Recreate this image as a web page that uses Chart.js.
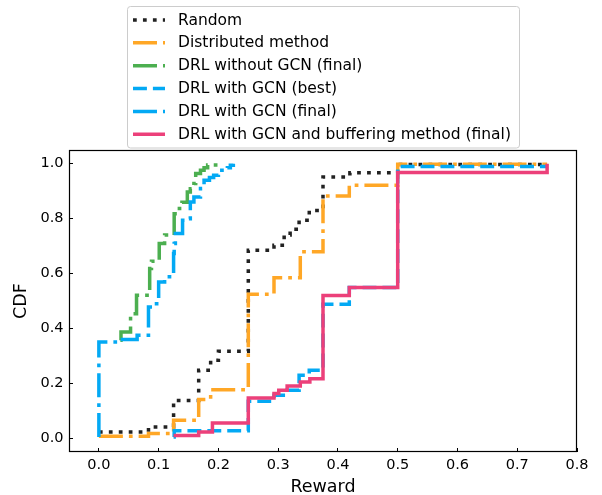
<!DOCTYPE html>
<html>
<head>
<meta charset="utf-8">
<script src="https://cdn.jsdelivr.net/npm/chart.js@4.4.0/dist/chart.umd.min.js"></script>
<style>
  html, body { margin: 0; padding: 0; background: #fff; }
  #c { display: block; }
</style>
</head>
<body>
<canvas id="c" width="602" height="495"></canvas>
<script>
// ---- Data ----
const seriesLabels = [
  "Random",
  "Distributed method",
  "DRL without GCN (final)",
  "DRL with GCN (best)",
  "DRL with GCN (final)",
  "DRL with GCN and buffering method (final)"
];

const randomX = [0, 0.083, 0.125, 0.167, 0.187, 0.2, 0.25, 0.293, 0.31, 0.32, 0.335, 0.352, 0.375, 0.42, 0.5, 0.75];
const randomY = [0.023, 0.041, 0.138, 0.248, 0.284, 0.317, 0.685, 0.703, 0.74, 0.761, 0.794, 0.83, 0.952, 0.967, 0.997, 0.997];

const distributedX = [0, 0.083, 0.125, 0.167, 0.187, 0.25, 0.293, 0.337, 0.375, 0.419, 0.5, 0.75];
const distributedY = [0.007, 0.017, 0.066, 0.141, 0.177, 0.525, 0.585, 0.679, 0.882, 0.922, 0.998, 0.998];

const noGcnX = [0.036, 0.037, 0.053, 0.063, 0.085, 0.088, 0.101, 0.11, 0.126, 0.131, 0.139, 0.148, 0.153, 0.159, 0.162, 0.17, 0.176, 0.182, 0.2];
const noGcnY = [0.357, 0.387, 0.454, 0.521, 0.618, 0.645, 0.709, 0.74, 0.818, 0.837, 0.86, 0.897, 0.909, 0.928, 0.964, 0.976, 0.985, 0.995, 0.995];

const gcnBestX = [0.125, 0.126, 0.25, 0.293, 0.315, 0.335, 0.352, 0.375, 0.419, 0.5, 0.75];
const gcnBestY = [0.005, 0.027, 0.135, 0.157, 0.175, 0.23, 0.248, 0.488, 0.549, 0.99, 0.99];

const gcnFinalX = [0, 0, 0.036, 0.064, 0.083, 0.093, 0.1, 0.11, 0.125, 0.126, 0.128, 0.14, 0.15, 0.153, 0.159, 0.17, 0.176, 0.185, 0.192, 0.2, 0.215, 0.22, 0.225];
const gcnFinalY = [0.005, 0.351, 0.36, 0.375, 0.478, 0.49, 0.569, 0.588, 0.673, 0.709, 0.746, 0.794, 0.8, 0.861, 0.879, 0.91, 0.94, 0.95, 0.958, 0.976, 0.985, 0.994, 1.0];

const bufferingX = [0.125, 0.167, 0.19, 0.25, 0.293, 0.301, 0.315, 0.337, 0.353, 0.375, 0.419, 0.5, 0.75];
const bufferingY = [0.01, 0.023, 0.056, 0.147, 0.163, 0.175, 0.19, 0.205, 0.217, 0.52, 0.549, 0.968, 1.0];

const xTickValues = [0, 0.1, 0.2, 0.3, 0.4, 0.5, 0.6, 0.7, 0.8];
const yTickValues = [0, 0.2, 0.4, 0.6, 0.8, 1.0];

// ---- Build ----
const pts = (xs, ys) => xs.map((x, i) => ({ x: x, y: ys[i] }));
const LW = 3.5;
const dotted = [3.75, 6.2];
const dashed = [13.9, 6];
const dashdot = [24, 6, 3.75, 6];

const styles = [
  { color: '#222222', dash: dotted },
  { color: '#FFA726', dash: dashdot },
  { color: '#4CAF50', dash: dashdot },
  { color: '#03A9F4', dash: dashed },
  { color: '#03A9F4', dash: dashdot },
  { color: '#EC407A', dash: [] }
];
const seriesData = [
  pts(randomX, randomY),
  pts(distributedX, distributedY),
  pts(noGcnX, noGcnY),
  pts(gcnBestX, gcnBestY),
  pts(gcnFinalX, gcnFinalY),
  pts(bufferingX, bufferingY)
];

const datasets = seriesLabels.map((label, i) => ({
  label: label,
  data: seriesData[i],
  borderColor: styles[i].color,
  backgroundColor: styles[i].color,
  borderDash: styles[i].dash,
  borderWidth: LW,
  pointRadius: 0,
  pointHoverRadius: 0,
  showLine: true,
  stepped: 'before',
  tension: 0,
  fill: false,
  order: seriesLabels.length - i
}));

const FONT = "'DejaVu Sans', sans-serif";

const framePlugin = {
  id: 'frame',
  afterDatasetsDraw(chart) {
    const { ctx, chartArea: a } = chart;
    ctx.save();
    ctx.strokeStyle = '#000';
    ctx.lineWidth = 1.2;
    ctx.setLineDash([]);
    ctx.strokeRect(a.left + 0.5, a.top + 0.5, a.right - a.left - 1, a.bottom - a.top - 1);
    ctx.restore();
  }
};

const legendPlugin = {
  id: 'boxLegend',
  afterDraw(chart) {
    const ctx = chart.ctx;
    ctx.save();
    const bx = 127.5, by = 6.5, bw = 392, bh = 141.5, r = 3;
    ctx.beginPath();
    ctx.moveTo(bx + r, by);
    ctx.lineTo(bx + bw - r, by);
    ctx.arcTo(bx + bw, by, bx + bw, by + r, r);
    ctx.lineTo(bx + bw, by + bh - r);
    ctx.arcTo(bx + bw, by + bh, bx + bw - r, by + bh, r);
    ctx.lineTo(bx + r, by + bh);
    ctx.arcTo(bx, by + bh, bx, by + bh - r, r);
    ctx.lineTo(bx, by + r);
    ctx.arcTo(bx, by, bx + r, by, r);
    ctx.closePath();
    ctx.fillStyle = 'rgba(255,255,255,0.85)';
    ctx.fill();
    ctx.strokeStyle = '#cccccc';
    ctx.lineWidth = 1;
    ctx.stroke();
    chart.data.datasets.forEach((ds, i) => {
      const y = 20 + i * 22.85;
      ctx.strokeStyle = ds.borderColor;
      ctx.lineWidth = ds.borderWidth;
      ctx.setLineDash(ds.borderDash || []);
      ctx.lineCap = 'butt';
      ctx.beginPath();
      ctx.moveTo(133, y);
      ctx.lineTo(165, y);
      ctx.stroke();
      ctx.setLineDash([]);
      ctx.fillStyle = '#000';
      ctx.font = "15.5px " + FONT;
      ctx.textBaseline = 'middle';
      ctx.textAlign = 'left';
      ctx.fillText(ds.label, 178, y + 0.5);
    });
    ctx.restore();
  }
};

new Chart(document.getElementById('c'), {
  type: 'scatter',
  data: { datasets: datasets },
  options: {
    responsive: false,
    devicePixelRatio: 1,
    animation: false,
    layout: { padding: { top: 150, right: 25, left: 0, bottom: 0 } },
    plugins: {
      legend: { display: false },
      tooltip: { enabled: false }
    },
    scales: {
      x: {
        type: 'linear',
        position: 'bottom',
        min: -0.05,
        max: 0.8,
        afterBuildTicks: (s) => { s.ticks = xTickValues.map(v => ({ value: v })); },
        afterFit: (s) => { s.height = 43; },
        border: { display: false },
        grid: { display: true, drawOnChartArea: false, drawTicks: true, tickLength: -4, tickColor: '#000', tickWidth: 1 },
        ticks: {
          autoSkip: false, maxRotation: 0, padding: 8.5, color: '#000',
          font: { family: FONT, size: 14.5 },
          callback: (v) => Number(v).toFixed(1)
        },
        title: { display: true, text: 'Reward', color: '#000', font: { family: FONT, size: 17.5 }, padding: { top: 0, bottom: -3 } }
      },
      y: {
        type: 'linear',
        position: 'left',
        min: -0.05,
        max: 1.05,
        afterBuildTicks: (s) => { s.ticks = yTickValues.map(v => ({ value: v })); },
        afterFit: (s) => { s.width = 69; },
        border: { display: false },
        grid: { display: true, drawOnChartArea: false, drawTicks: true, tickLength: -4, tickColor: '#000', tickWidth: 1 },
        ticks: {
          autoSkip: false, padding: 9.5, color: '#000',
          font: { family: FONT, size: 14.5 },
          callback: (v) => Number(v).toFixed(1)
        },
        title: { display: true, text: 'CDF', color: '#000', font: { family: FONT, size: 17.5 }, padding: { top: 11, bottom: 0 } }
      }
    }
  },
  plugins: [framePlugin, legendPlugin]
});
</script>
</body>
</html>
